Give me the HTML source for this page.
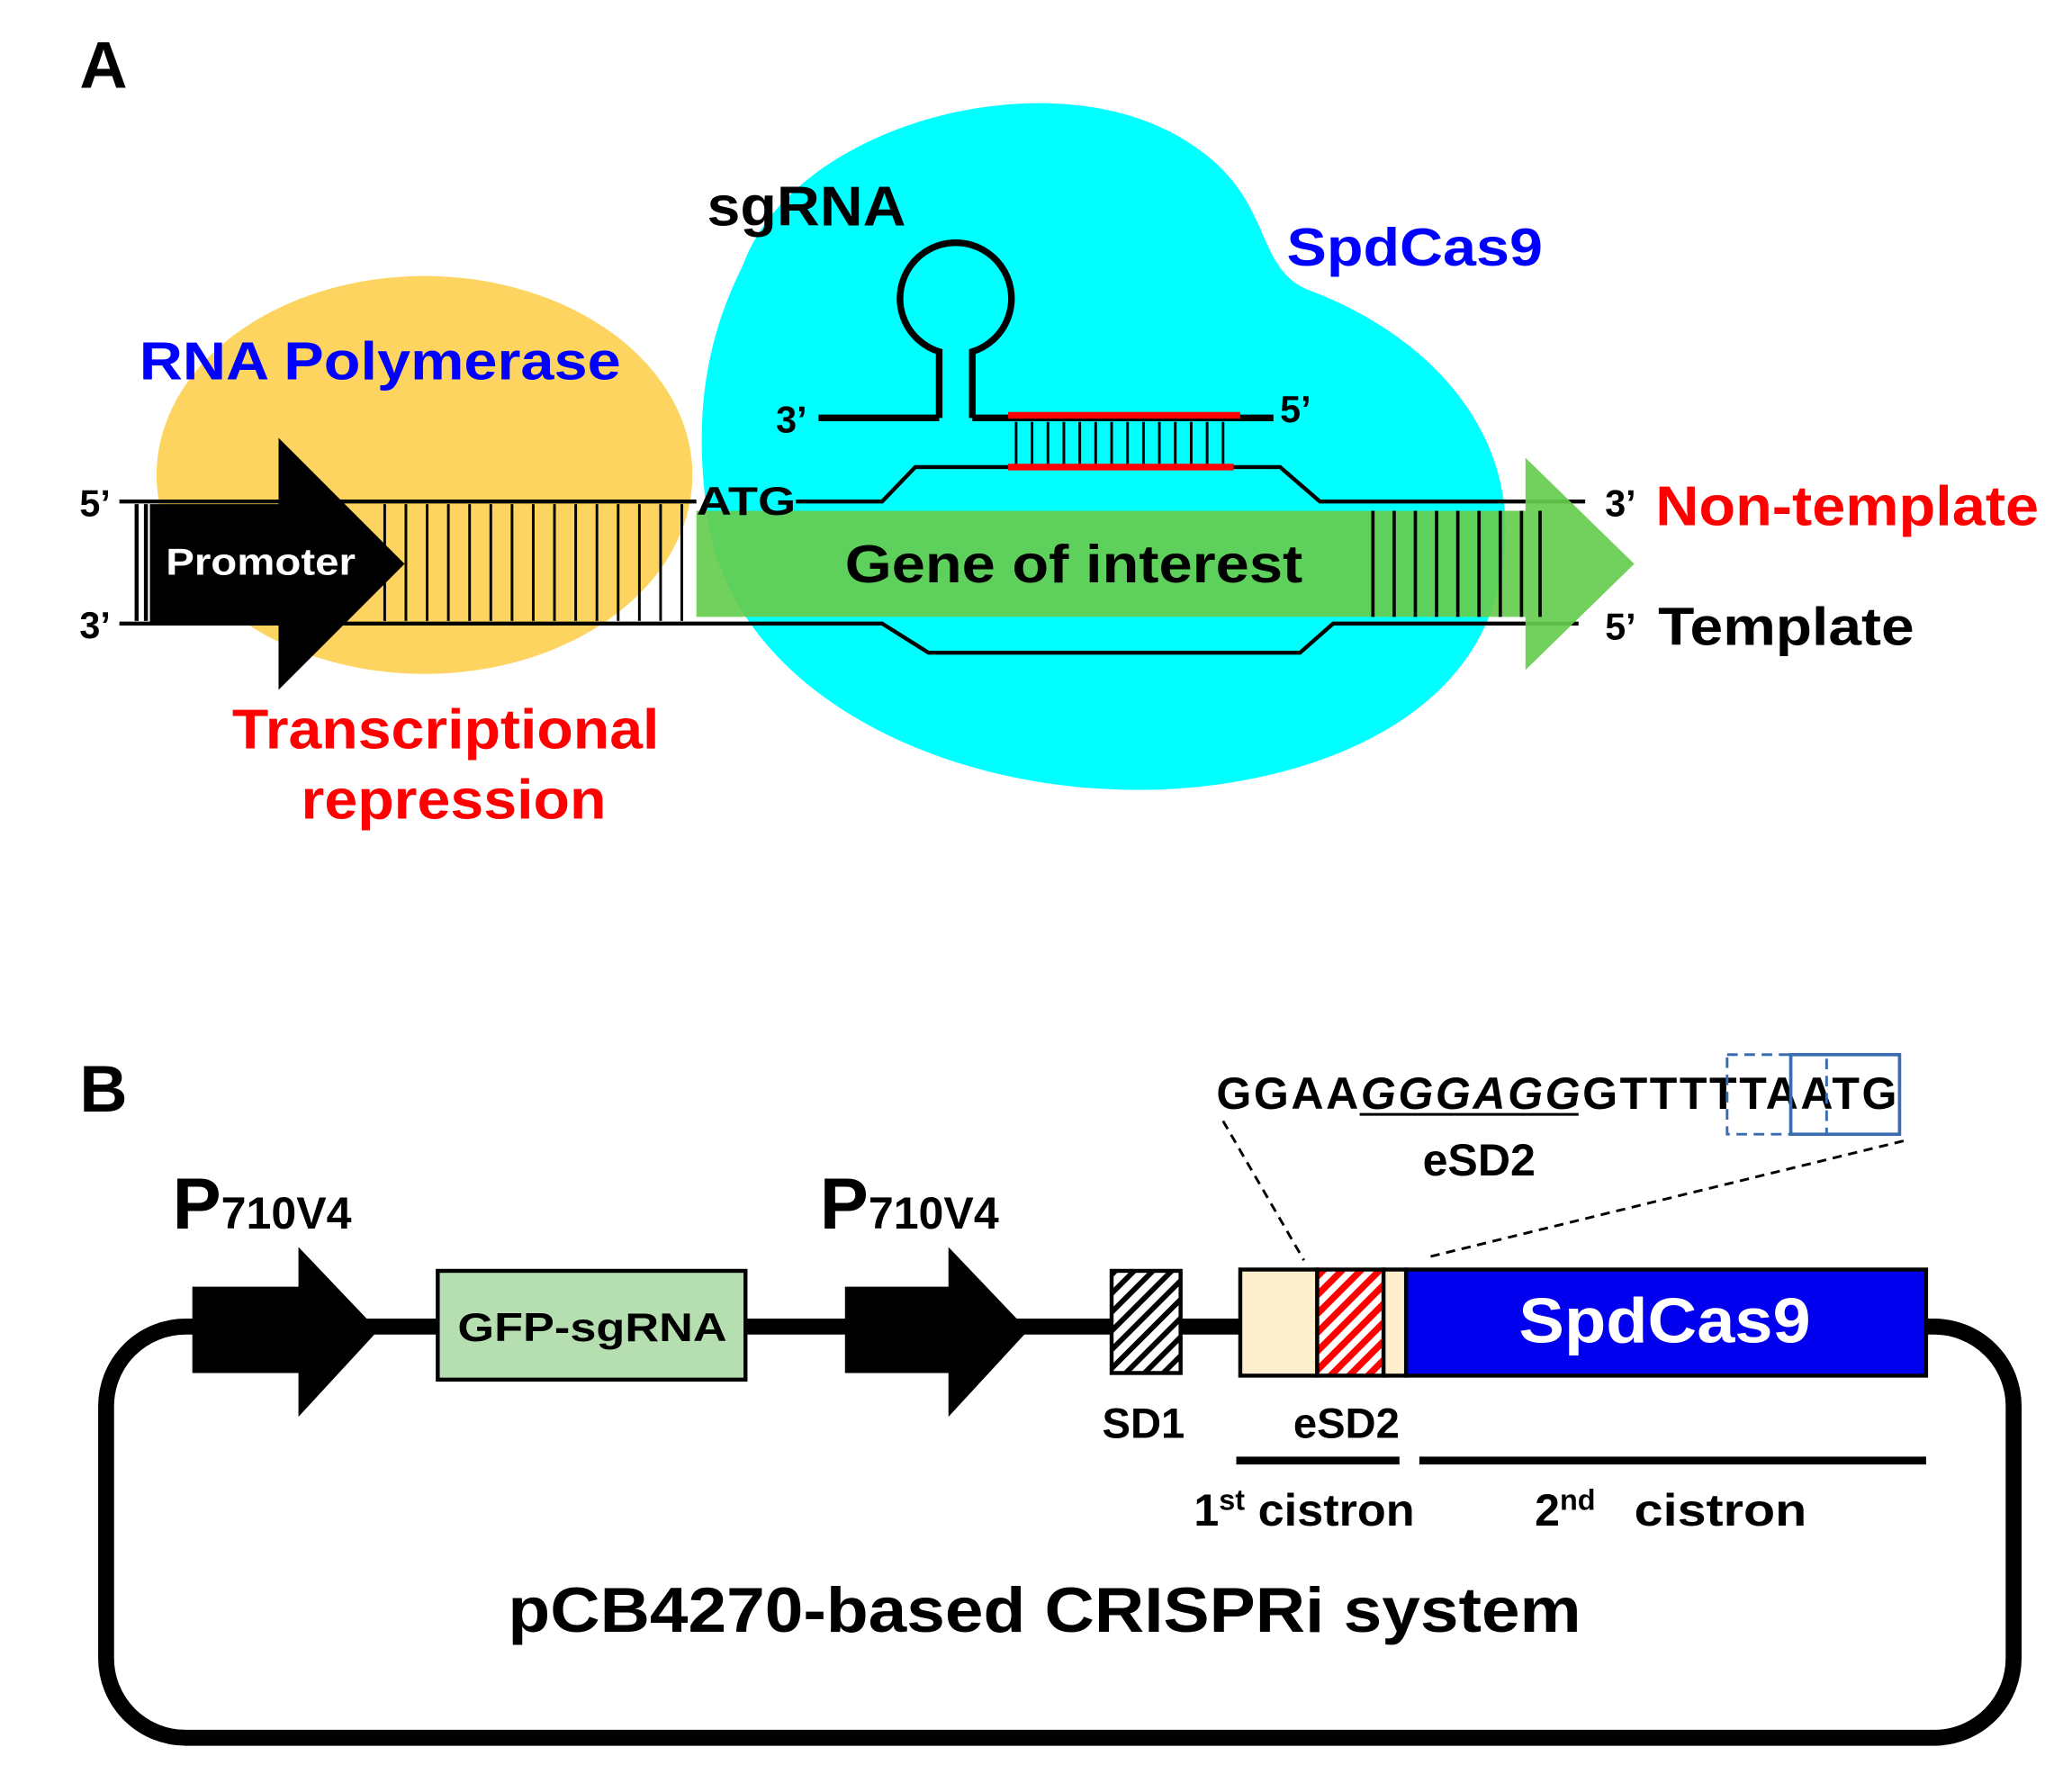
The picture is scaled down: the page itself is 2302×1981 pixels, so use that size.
<!DOCTYPE html>
<html><head><meta charset="utf-8"><style>html,body{margin:0;padding:0;background:#fff}svg{display:block}text{font-family:"Liberation Sans",Arial,sans-serif;font-weight:bold}</style></head>
<body>
<svg width="2302" height="1981" viewBox="0 0 1562 1344" xmlns="http://www.w3.org/2000/svg">
<defs>
<pattern id="hb" width="10" height="10" patternUnits="userSpaceOnUse" patternTransform="rotate(45)"><rect width="10" height="10" fill="#fff"/><rect width="4" height="10" fill="#000"/></pattern>
<pattern id="hr" width="10" height="10" patternUnits="userSpaceOnUse" patternTransform="rotate(45)"><rect width="10" height="10" fill="#fff"/><rect width="5" height="10" fill="#f00"/></pattern>
</defs>
<text x="60" y="66" font-size="50">A</text>
<ellipse cx="320" cy="358" rx="202" ry="150" fill="#fdd45f"/>
<path d="M560,200 C600,90 800,40 900,110 C960,150 945,200 985,218 C1085,255 1150,335 1132,430 C1112,560 950,600 840,595 C700,590 560,520 535,400 C522,320 530,260 560,200 Z" fill="#00ffff"/>
<g stroke="#000" stroke-width="3" fill="none">
<path d="M90,378 H525"/><path d="M600,378 H665 L690,352 H965 L995,378 H1195"/>
<path d="M90,470 H665 L700,492 H980 L1005,470 H1190"/>
<path d="M103,380 V468 M110,380 V468"/>
</g>
<g stroke="#000" stroke-width="2">
<path d="M290,380V468M306,380V468M322,380V468M338,380V468M354,380V468M370,380V468M386,380V468M402,380V468M418,380V468M434,380V468M450,380V468M466,380V468M482,380V468M498,380V468M514,380V468"/>
</g>
<path d="M113,380 H210 V330 L305,425 L210,520 V470 H113 Z" fill="#000"/>
<text x="125" y="433" font-size="28" fill="#fff" textLength="143" lengthAdjust="spacingAndGlyphs">Promoter</text>
<path d="M525,385 H1150 V345 L1232,425 L1150,505 V465 H525 Z" fill="#66cc4e" opacity="0.92"/>
<g stroke="#000" stroke-width="2.5"><path d="M1035,385V465M1051,385V465M1067,385V465M1083,385V465M1099,385V465M1115,385V465M1131,385V465M1147,385V465M1161,385V465"/></g>
<text x="637" y="439" font-size="40" textLength="345" lengthAdjust="spacingAndGlyphs">Gene of interest</text>
<text x="525" y="388" font-size="30" textLength="75" lengthAdjust="spacingAndGlyphs">ATG</text>
<g stroke="#000" stroke-width="5" fill="none">
<path d="M708,315 V265 A42,42 0 1 1 733,265 V315"/>
<path d="M617,315 H708 M733,315 H960"/>
</g>
<g stroke="#000" stroke-width="2"><path d="M766,318V350M778,318V350M790,318V350M802,318V350M814,318V350M826,318V350M838,318V350M850,318V350M862,318V350M874,318V350M886,318V350M898,318V350M910,318V350M922,318V350"/></g>
<path d="M760,313 H935 M760,352 H930" stroke="#f00" stroke-width="5"/>
<text x="533" y="170" font-size="42" textLength="150" lengthAdjust="spacingAndGlyphs">sgRNA</text>
<text x="970" y="200" font-size="40" fill="#0000ff" textLength="193" lengthAdjust="spacingAndGlyphs">SpdCas9</text>
<text x="105" y="286" font-size="40" fill="#0000ff" textLength="363" lengthAdjust="spacingAndGlyphs">RNA Polymerase</text>
<text x="585" y="326" font-size="28">3’</text>
<text x="965" y="318" font-size="28">5’</text>
<text x="60" y="389" font-size="28">5’</text>
<text x="60" y="481" font-size="28">3’</text>
<text x="1210" y="389" font-size="28">3’</text>
<text x="1248" y="396" font-size="42" fill="#f00" textLength="289" lengthAdjust="spacingAndGlyphs">Non-template</text>
<text x="1210" y="482" font-size="28">5’</text>
<text x="1250" y="486" font-size="40" textLength="193" lengthAdjust="spacingAndGlyphs">Template</text>
<text x="175" y="564" font-size="42" fill="#f00" textLength="322" lengthAdjust="spacingAndGlyphs">Transcriptional</text>
<text x="227" y="617" font-size="42" fill="#f00" textLength="230" lengthAdjust="spacingAndGlyphs">repression</text>
<text x="60" y="838" font-size="50">B</text>
<rect x="80" y="1000" width="1438" height="310" rx="60" fill="none" stroke="#000" stroke-width="12"/>
<path d="M145,970 H225 V940 L285,1003 L225,1068 V1035 H145 Z" fill="#000"/>
<path d="M637,970 H715 V940 L775,1003 L715,1068 V1035 H637 Z" fill="#000"/>
<text x="130" y="926" font-size="55">P<tspan font-size="34">710V4</tspan></text>
<text x="618" y="926" font-size="55">P<tspan font-size="34">710V4</tspan></text>
<rect x="330" y="958" width="232" height="82" fill="#b5dfb0" stroke="#000" stroke-width="3"/>
<text x="345" y="1011" font-size="30" textLength="203" lengthAdjust="spacingAndGlyphs">GFP-sgRNA</text>
<rect x="838" y="958" width="52" height="77" fill="url(#hb)" stroke="#000" stroke-width="3"/>
<rect x="935" y="957" width="58" height="80" fill="#fdefcd" stroke="#000" stroke-width="3"/>
<rect x="993" y="957" width="50" height="80" fill="url(#hr)" stroke="#000" stroke-width="3"/>
<rect x="1043" y="957" width="17" height="80" fill="#fdefcd" stroke="#000" stroke-width="3"/>
<rect x="1060" y="957" width="392" height="80" fill="#0000ee" stroke="#000" stroke-width="3"/>
<text x="1145" y="1012" font-size="48" fill="#fff" textLength="220" lengthAdjust="spacingAndGlyphs">SpdCas9</text>
<text x="862" y="1084" font-size="32" text-anchor="middle">SD1</text>
<text x="1015" y="1084" font-size="32" text-anchor="middle">eSD2</text>
<path d="M932,1101 H1055 M1070,1101 H1452" stroke="#000" stroke-width="6"/>
<text x="900" y="1150" font-size="34">1<tspan font-size="22" dy="-12">st</tspan><tspan dy="12" textLength="128" lengthAdjust="spacingAndGlyphs"> cistron</tspan></text>
<text x="1157" y="1150" font-size="34">2<tspan font-size="22" dy="-12">nd</tspan><tspan dy="12" x="1232" textLength="130" lengthAdjust="spacingAndGlyphs">cistron</tspan></text>
<text x="383" y="1230" font-size="48" textLength="809" lengthAdjust="spacingAndGlyphs">pCB4270-based CRISPRi system</text>
<text x="917" y="836" font-size="34" textLength="513">GGAA<tspan font-style="italic">GGGAGG</tspan>GTTTTTAATG</text>
<path d="M1025,840 H1190" stroke="#000" stroke-width="2"/>
<rect x="1302" y="795" width="75" height="60" fill="none" stroke="#3a6cb0" stroke-width="2" stroke-dasharray="8,5"/>
<rect x="1350" y="795" width="82" height="60" fill="none" stroke="#3a6cb0" stroke-width="2.5"/>
<text x="1115" y="886" font-size="34" text-anchor="middle">eSD2</text>
<path d="M922,845 L983,950 M1435,860 L1075,948" stroke="#000" stroke-width="2" stroke-dasharray="7,5" fill="none"/>
</svg>
</body></html>
